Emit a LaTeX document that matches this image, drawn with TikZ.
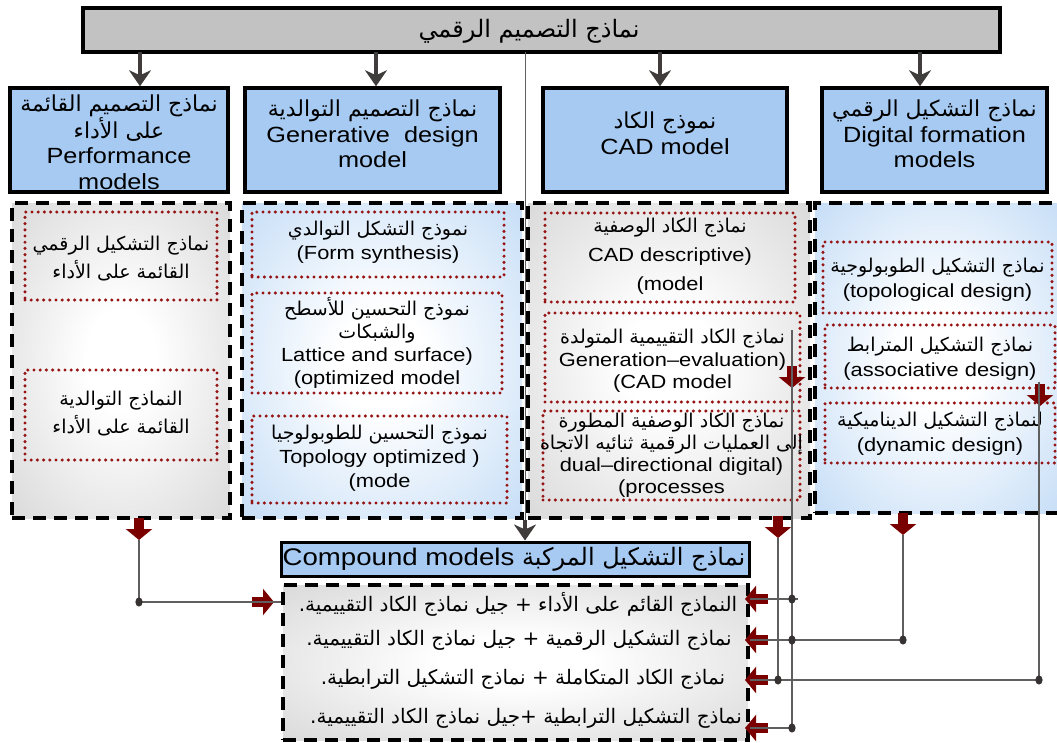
\documentclass[tikz,border=0pt]{standalone}
\usepackage{fontspec}
\setmainfont{Liberation Sans}[FakeStretch=1.15]
\newfontfamily\arfont[Script=Arabic]{DejaVu Sans}
\TeXXeTstate=1
\usetikzlibrary{arrows.meta}

\definecolor{hdrblue}{RGB}{166,202,242}
\definecolor{titlegray}{RGB}{194,194,194}
\definecolor{dotred}{RGB}{150,20,20}
\definecolor{blockred}{RGB}{122,0,0}
\definecolor{wirecol}{RGB}{95,95,95}
\definecolor{knotcol}{RGB}{55,50,50}
\definecolor{tipgray}{RGB}{64,60,60}
\definecolor{edgegray}{RGB}{198,198,198}
\definecolor{edgeblue}{RGB}{168,204,242}

\pgfdeclareradialshading{greyglow}{\pgfpoint{0bp}{0bp}}{color(0bp)=(white); color(8bp)=(white); color(50bp)=(edgegray)}
\pgfdeclareradialshading{blueglow}{\pgfpoint{0bp}{0bp}}{color(0bp)=(white); color(8bp)=(white); color(50bp)=(edgeblue)}

\newcommand\AR[1]{{\arfont\beginR#1\endR}}

\tikzset{
  titlebox/.style={draw=black, line width=3.5pt, fill=titlegray, inner sep=0pt},
  hdrbox/.style={draw=black, line width=3.5pt, fill=hdrblue, inner sep=0pt},
  hdrtext/.style={align=center, inner sep=0pt, font=\fontsize{22}{25.5}\selectfont},
  greycol/.style={draw=black, line width=3.5pt, dash pattern=on 13pt off 8pt, shading=greyglow, inner sep=0pt},
  bluecol/.style={draw=black, line width=3.5pt, dash pattern=on 13pt off 8pt, shading=blueglow, inner sep=0pt},
  dotbox/.style={draw=dotred, line width=3.4pt, dash pattern=on 0pt off 6.2pt, line cap=round, inner sep=0pt},
  coltext/.style={align=center, inner sep=0pt, font=\fontsize{19}{24}\selectfont},
  listtext/.style={inner sep=0pt, font=\fontsize{20}{24}\selectfont},
  downtip/.style={draw=tipgray, line width=3.2pt, -{Stealth[width=22pt,length=16pt,inset=5pt]}},
  redarrow/.style={draw=blockred, line width=10pt, -{Triangle[width=26pt,length=11pt]}},
  wire/.style={draw=wirecol, line width=1.3pt},
  knot/.style={fill=knotcol}
}

\begin{document}
\begin{tikzpicture}[x=1pt,y=-1pt]
\useasboundingbox (0,0) rectangle (1057,742);
\clip (0,0) rectangle (1057,742);

% ---- top level ----
\node[titlebox, minimum width=917pt, minimum height=44pt] (title) at (541.5,30) {};
\node[inner sep=0pt, font=\fontsize{24}{26}\selectfont] (titletxt) at (529,31) {\AR{نماذج التصميم الرقمي}};

% ---- model families ----
\node[hdrbox, minimum width=218pt, minimum height=104pt] (h1) at (119,140) {};
\node[hdrtext] (h1t) at (119,142) {\AR{نماذج التصميم القائمة}\\\AR{على الأداء}\\Performance\\models};
\node[hdrbox, minimum width=255pt, minimum height=104pt] (h2) at (372.5,140) {};
\node[hdrtext] (h2t) at (372.5,134) {\AR{نماذج التصميم التوالدية}\\Generative\ \ design\\model};
\node[hdrbox, minimum width=244pt, minimum height=104pt] (h3) at (665,140) {};
\node[hdrtext] (h3t) at (665,133) {\AR{نموذج الكاد}\\CAD model};
\node[hdrbox, minimum width=225pt, minimum height=104pt] (h4) at (934.5,140) {};
\node[hdrtext] (h4t) at (934.5,134) {\AR{نماذج التشكيل الرقمي}\\Digital formation\\models};

% arrows from the root box
\coordinate (t1) at (140,52);
\coordinate (t2) at (376,52);
\coordinate (t3) at (660,52);
\coordinate (t4) at (920,52);
\coordinate (t0) at (525,52);
\draw[downtip] (t1) -- (t1 |- h1.north);
\draw[downtip] (t2) -- (t2 |- h2.north);
\draw[downtip] (t3) -- (t3 |- h3.north);
\draw[downtip] (t4) -- (t4 |- h4.north);

% ---- column panels ----
\node[greycol, minimum width=218pt, minimum height=315pt] (c1) at (121,360.5) {};
\node[bluecol, minimum width=280pt, minimum height=315pt] (c2) at (382,360.5) {};
\node[greycol, minimum width=282pt, minimum height=315pt] (c3) at (669,360.5) {};
\node[bluecol, minimum width=247pt, minimum height=310pt] (c4) at (938.5,358) {};

% performance column
\node[dotbox, minimum width=192pt, minimum height=88pt] (c1a) at (121,256) {};
\node[coltext, font=\fontsize{19}{28}\selectfont] (c1at) at (121,259) {\AR{نماذج التشكيل الرقمي}\\\AR{القائمة على الأداء}};
\node[dotbox, minimum width=192pt, minimum height=90pt] (c1b) at (121,415) {};
\node[coltext, font=\fontsize{19}{28}\selectfont] (c1bt) at (121,414) {\AR{النماذج التوالدية}\\\AR{القائمة على الأداء}};

% generative column
\node[dotbox, minimum width=252pt, minimum height=65pt] (c2a) at (378,244.5) {};
\node[coltext] (c2at) at (378,242) {\AR{نموذج التشكل التوالدي}\\(Form synthesis)};
\node[dotbox, minimum width=250pt, minimum height=100pt] (c2b) at (377,343) {};
\node[coltext, font=\fontsize{19}{23}\selectfont] (c2bt) at (377,343) {\AR{نموذج التحسين للأسطح}\\\AR{والشبكات}\\Lattice and surface)\\(optimized model};
\node[dotbox, minimum width=255pt, minimum height=87pt] (c2c) at (379.5,459.5) {};
\node[coltext] (c2ct) at (379.5,458) {\AR{نموذج التحسين للطوبولوجيا}\\Topology optimized )\\(mode};

% CAD column
\node[dotbox, minimum width=250pt, minimum height=89pt] (c3a) at (670,257.5) {};
\node[coltext, font=\fontsize{19}{29}\selectfont] (c3at) at (670,256) {\AR{نماذج الكاد الوصفية}\\CAD descriptive)\\(model};
\node[dotbox, minimum width=255pt, minimum height=89pt] (c3b) at (672.5,357.5) {};
\node[coltext, font=\fontsize{19}{22.5}\selectfont] (c3bt) at (672.5,361) {\AR{نماذج الكاد التقييمية المتولدة}\\Generation–evaluation)\\(CAD model};
\node[dotbox, minimum width=257pt, minimum height=89pt] (c3c) at (671.5,455.5) {};
\node[coltext, font=\fontsize{19}{22}\selectfont] (c3ct) at (671.5,455) {\AR{نماذج الكاد الوصفية المطورة}\\\AR{إلى العمليات الرقمية ثنائيه الاتجاه}\\dual–directional digital)\\(processes};

% digital formation column
\node[dotbox, minimum width=229pt, minimum height=71pt] (c4a) at (937.5,277.5) {};
\node[coltext, font=\fontsize{19}{25}\selectfont] (c4at) at (937.5,280) {\AR{نماذج التشكيل الطوبولوجية}\\(topological design)};
\node[dotbox, minimum width=230pt, minimum height=63pt] (c4b) at (940,356.5) {};
\node[coltext, font=\fontsize{19}{25}\selectfont] (c4bt) at (940,359) {\AR{نماذج التشكيل المترابط}\\(associative design)};
\node[dotbox, minimum width=230pt, minimum height=60pt] (c4c) at (940,433) {};
\node[coltext, font=\fontsize{19}{25}\selectfont] (c4ct) at (940,434) {\AR{لنماذج التشكيل الديناميكية}\\(dynamic design)};

% ---- compound models ----
\node[hdrbox, line width=3pt, minimum width=468pt, minimum height=34pt] (cmp) at (515,559) {};
\node[inner sep=0pt, font=\fontsize{24}{26}\selectfont] (cmpt) at (514,559) {Compound models \AR{نماذج التشكيل المركبة}};
\node[greycol, minimum width=465pt, minimum height=155pt] (lst) at (515.5,662.5) {};
\node[listtext] (l1) at (518,604) {\AR{النماذج القائم على الأداء + جيل نماذج الكاد التقييمية.}};
\node[listtext] (l2) at (519,640) {\AR{نماذج التشكيل الرقمية + جيل نماذج الكاد التقييمية.}};
\node[listtext] (l3) at (523,679) {\AR{نماذج الكاد المتكاملة + نماذج التشكيل الترابطية.}};
\node[listtext] (l4) at (526,718) {\AR{نماذج التشكيل الترابطية +جيل نماذج الكاد التقييمية.}};

% root straight down to the compound box
\coordinate (cmpk) at (t0 |- 0,520);
\draw[wire, line width=1pt] (t0) -- (cmpk);
\draw[downtip] (cmpk) -- (t0 |- cmp.north);

% ---- junction points ----
\coordinate (o1) at (139,518);   \coordinate (o1e) at (139,540);
\coordinate (o3) at (778,516);   \coordinate (o3e) at (778,538);
\coordinate (o4) at (903,513);   \coordinate (o4e) at (903,535);
\coordinate (i3) at (792,366);   \coordinate (i3e) at (792,388);
\coordinate (i3top) at (792,330);
\coordinate (i4) at (1040,384);  \coordinate (i4e) at (1040,406);
\coordinate (i4top) at (1039,382);
\coordinate (k1) at (139,602);
\coordinate (ka) at (792,599);
\coordinate (kb) at (792,640);
\coordinate (kbb) at (903,640);
\coordinate (kc) at (778,680);
\coordinate (kcc) at (1039,680);
\coordinate (kd) at (792,728);
\coordinate (ra) at (252,602);   \coordinate (rae) at (274,602);
\coordinate (la) at (768,599);   \coordinate (lae) at (745,599);
\coordinate (lb) at (768,640);   \coordinate (lbe) at (745,640);
\coordinate (lc) at (768,680);   \coordinate (lce) at (745,680);
\coordinate (ld) at (768,728);   \coordinate (lde) at (745,728);

% block arrows
\draw[redarrow] (o1) -- (o1e);
\draw[redarrow] (o3) -- (o3e);
\draw[redarrow] (o4) -- (o4e);
\draw[redarrow] (i3) -- (i3e);
\draw[redarrow] (i4) -- (i4e);
\draw[redarrow] (ra) -- (rae);
\draw[redarrow] (la) -- (lae);
\draw[redarrow] (lb) -- (lbe);
\draw[redarrow] (lc) -- (lce);
\draw[redarrow] (ld) -- (lde);

% wires
\draw[wire] (o1e) -- (k1) -- (k1 -| lst.west);
\draw[wire] (i3top) -- (kd) -- (kd -| lst.east);
\draw[wire] (798,599) -- (ka -| lst.east);
\draw[wire] (o4e) -- (kbb) -- (kb -| lst.east);
\draw[wire] (o3e) -- (kc);
\draw[wire] (i4top) -- (kcc) -- (kc -| lst.east);

% junction dots
\foreach \p in {k1,ka,kb,kbb,kc,kcc,kd}
  \fill[knot] (\p) ellipse (3.6pt and 4.6pt);
\end{tikzpicture}
\end{document}
